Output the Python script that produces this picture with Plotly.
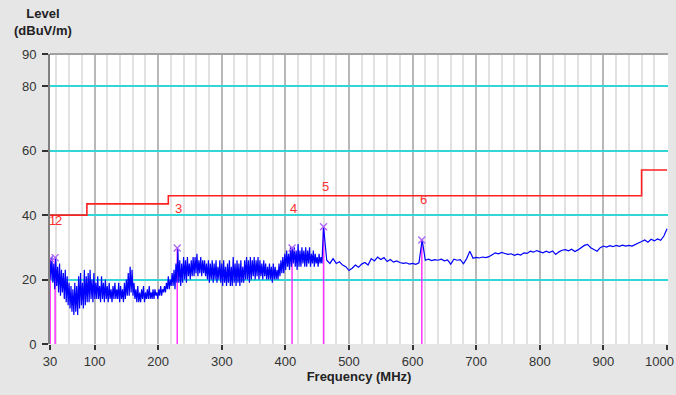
import plotly.graph_objects as go

# ---------------- data ----------------
# noisy part 30..456 MHz (3 MHz steps): upper / lower excursions of the sweep
noisy_freq = list(range(30, 459, 3))
noisy_hi = [26, 27, 25, 27, 24, 25, 23, 22, 23, 21,
            19, 18, 17, 19, 18, 21, 22, 19, 23, 21,
            22, 23, 20, 22, 19, 21, 18, 21, 19, 20,
            18, 19, 17, 18, 19, 17, 19, 18, 17, 19,
            20, 22, 24, 23, 19, 17, 18, 16, 17, 18,
            16, 17, 18, 16, 17, 17, 16, 17, 18, 17,
            18, 19, 21, 20, 22, 23, 25, 29.5, 26, 25,
            27, 26, 27, 25, 26, 27, 27, 28, 26, 27,
            26, 26, 25, 26, 25, 26, 25, 26, 24, 26,
            25, 26, 24, 25, 26, 24, 27, 25, 26, 25,
            26, 24, 26, 27, 26, 27, 26, 27, 26, 27,
            26, 25, 26, 25, 24, 25, 24, 25, 24, 23,
            25, 26, 27, 28, 29, 28, 30, 30, 30, 29,
            31, 29, 30, 29, 30, 29, 30, 28, 29, 28,
            27, 28, 27]
noisy_lo = [20, 19, 17, 18, 16, 15, 16, 14, 13, 12,
            11, 10, 9, 10, 9, 11, 12, 11, 12, 13,
            13, 14, 13, 14, 14, 14, 13, 14, 13, 14,
            13, 14, 13, 14, 14, 14, 13, 14, 13, 14,
            15, 15, 16, 15, 14, 13, 13, 13, 14, 13,
            14, 14, 14, 14, 14, 15, 14, 15, 15, 16,
            16, 17, 17, 18, 18, 17, 19, 19, 18, 19,
            20, 19, 21, 20, 21, 21, 22, 21, 22, 21,
            22, 21, 20, 19, 20, 19, 20, 19, 20, 19,
            18, 19, 18, 19, 18, 18, 19, 18, 19, 18,
            19, 19, 20, 20, 19, 20, 21, 20, 21, 20,
            21, 20, 21, 20, 20, 20, 19, 20, 20, 20,
            21, 22, 22, 23, 24, 23, 24, 25, 24, 23,
            24, 24, 25, 24, 24, 25, 24, 25, 24, 25,
            24, 25, 25]

# smoother part 460..1000 MHz (5 MHz steps)
smooth_freq = list(range(460, 1001, 5))
smooth_level = [36.4, 26, 25, 26.5, 25, 25.5, 24.5, 24, 22.8, 23.5,
                24.5, 23.8, 24.8, 25.3, 24.5, 26.5, 25.8, 27, 26.2, 26.8,
                25.6, 26.2, 25.4, 25.8, 25.3, 25, 25.2, 24.8, 25, 24.7,
                25.2, 32.3, 26, 26.3, 25.9, 26.2, 26, 26.3, 25.8, 26.1,
                24.8, 26.3, 26, 26.2, 24.9, 26.5, 28.8, 26.6, 26.9, 26.7,
                27, 26.8, 27.1, 27.6, 28.3, 28, 28.4, 28.1, 27.8, 28,
                27.5, 27.9, 27.6, 28.3, 28.1, 28.8, 28.5, 29, 28.6, 28.3,
                28.8, 28.4, 28.9, 27.8, 28.6, 29.1, 29.3, 28.9, 29.4, 28.7,
                29.2, 29.8, 30.6, 30.9, 29.9, 29.3, 28.8, 29.9, 30.4, 30.1,
                30.5, 30.2, 30.6, 30.3, 30.7, 30.4, 30.6, 30.4, 30.8, 31.4,
                31.8, 32.3, 31.6, 32.5, 32, 32.6, 32.2, 33.5, 35.8]

# limit line (FCC class B)
limit_freq = [30, 88, 216, 960, 1000]
limit_level = [40, 43.5, 46, 54, 54]

# markers
marker_names = ["1", "2", "3", "4", "5", "6"]
marker_freq = [30.3, 38, 230, 410.5, 460, 614.5]
marker_level = [26.5, 26.8, 29.8, 29.8, 36.4, 32.3]
label_freq = [33.5, 44, 232, 412, 463, 617]
label_level = [38.4, 38.4, 42.0, 42.2, 48.9, 44.7]

x_ticks = [30, 100, 200, 300, 400, 500, 600, 700, 800, 900, 1000]
x_ticktext = ["30", "100", "200", "300", "400", "500", "600", "700", "800", "900", ""]
last_tick_label = "1000"
y_ticks = [0, 20, 40, 60, 80, 90]

# ---------------- build sweep ----------------
sweep_x, sweep_y = [], []
for f, hi, lo in zip(noisy_freq, noisy_hi, noisy_lo):
    sweep_x += [f, f + 1.5]
    sweep_y += [hi, lo]
sweep_x += smooth_freq
sweep_y += smooth_level

fig = go.Figure()

# marker stems
stem_x, stem_y = [], []
for f, lv in zip(marker_freq, marker_level):
    stem_x += [f, f, None]
    stem_y += [0, lv, None]
fig.add_trace(go.Scatter(x=stem_x, y=stem_y, mode="lines",
                         line=dict(color="#ff33ff", width=1.5), hoverinfo="skip"))

fig.add_trace(go.Scatter(x=limit_freq, y=limit_level, mode="lines", line_shape="hv",
                         line=dict(color="#ff2020", width=1.6)))

fig.add_trace(go.Scatter(x=sweep_x, y=sweep_y, mode="lines",
                         line=dict(color="#0000ff", width=1.2)))

fig.add_trace(go.Scatter(x=marker_freq, y=marker_level, mode="markers",
                         marker=dict(symbol="x-thin-open", size=7,
                                     line=dict(color="#ff33ff", width=1.3))))

for name, f, lv in zip(marker_names, label_freq, label_level):
    fig.add_annotation(x=f, y=lv, text=name, showarrow=False,
                       font=dict(color="#ff3030", size=13,
                                 family="Liberation Sans, Arial, sans-serif"))

fig.add_annotation(xref="paper", yref="paper", x=-0.012, y=1.0, yshift=14,
                   text="<b>Level<br>(dBuV/m)</b>", showarrow=False, align="center",
                   xanchor="center", yanchor="bottom",
                   font=dict(size=13, color="#222222",
                             family="Liberation Sans, Arial, sans-serif"))

# last x tick label kept inside the window
fig.add_annotation(xref="paper", yref="paper", x=1.0, y=0.0, xshift=8, yshift=-17,
                   text=last_tick_label, showarrow=False, xanchor="right",
                   yanchor="middle",
                   font=dict(size=13, color="#333333",
                             family="Liberation Sans, Arial, sans-serif"))

# top frame line
fig.add_shape(type="line", xref="paper", yref="paper", x0=0, x1=1, y0=1, y1=1,
              line=dict(color="#a0a0a0", width=2))

fig.update_layout(
    width=676, height=395,
    margin=dict(l=50, r=8, t=54, b=51, autoexpand=False),
    paper_bgcolor="#e6e6e6", plot_bgcolor="#ffffff",
    showlegend=False,
    font=dict(family="Liberation Sans, Arial, sans-serif", size=13, color="#333333"),
    xaxis=dict(
        range=[30, 1001.5], tickvals=x_ticks, ticktext=x_ticktext,
        ticks="outside", ticklen=5,
        tickcolor="#333333", tickwidth=1.5,
        automargin=False,
        showgrid=True, gridcolor="#b8b8b8", gridwidth=1.5,
        minor=dict(dtick=20, tick0=0, showgrid=True, gridcolor="#e2e2e2", gridwidth=2),
        showline=False, zeroline=False,
        title=dict(text="<b>Frequency (MHz)</b>", standoff=4,
                   font=dict(size=13, color="#222222")),
    ),
    yaxis=dict(
        range=[0, 90], tickvals=y_ticks, ticks="outside", ticklen=6,
        tickcolor="#333333", tickwidth=1.5, ticklabelstandoff=3,
        automargin=False,
        showgrid=True, gridcolor="#33d6d6", gridwidth=1.5,
        showline=True, linecolor="#808080", linewidth=2,
        zeroline=False,
    ),
)

fig.write_html("out.html", config={"displayModeBar": False},
               post_script="document.body.style.margin='0';document.body.style.overflow='hidden';")
